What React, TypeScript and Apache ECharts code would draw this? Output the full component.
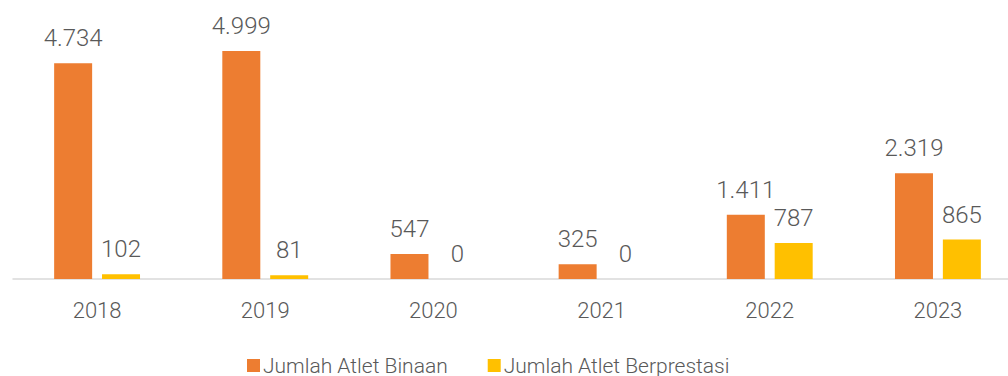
import React, { useEffect, useRef } from "react";
import * as echarts from "echarts";

const categories = ["2018", "2019", "2020", "2021", "2022", "2023"];
const atletBinaan = [4734, 4999, 547, 325, 1411, 2319];
const atletBerprestasi = [102, 81, 0, 0, 787, 865];
const seriesNames = ["Jumlah Atlet Binaan", "Jumlah Atlet Berprestasi"];

const fmt = (v: number) => String(v).replace(/\B(?=(\d{3})+(?!\d))/g, ".");

export default function App() {
  const ref = useRef<HTMLDivElement>(null);
  useEffect(() => {
    if (!ref.current) return;
    const chart = echarts.init(ref.current, null, { renderer: "svg" });
    const labelCfg = {
      show: true,
      position: "top" as const,
      distance: 13,
      color: "#595959",
      fontSize: 24,
      fontWeight: 300,
      fontFamily: "Roboto",
      formatter: (p: any) => fmt(p.value),
    };
    chart.setOption({
      animation: false,
      grid: { left: 13, right: 0, top: 51, bottom: 97, containLabel: false },
      legend: {
        data: seriesNames,
        left: 242,
        top: 350,
        icon: "rect",
        itemWidth: 13,
        itemHeight: 13,
        itemGap: 40,
        textStyle: {
          color: "#595959",
          fontSize: 21,
          fontWeight: 300,
          fontFamily: "Roboto",
          padding: [0, 0, 0, -2],
        },
      },
      xAxis: {
        type: "category",
        data: categories,
        axisLine: { show: true, lineStyle: { color: "#D9D9D9", width: 1.5 } },
        axisTick: { show: false },
        axisLabel: { color: "#595959", fontSize: 22, fontWeight: 300, fontFamily: "Roboto", margin: 20 },
      },
      yAxis: {
        type: "value",
        min: 0,
        max: 5000,
        show: false,
        splitLine: { show: false },
      },
      series: [
        {
          name: seriesNames[0],
          type: "bar",
          data: atletBinaan,
          barWidth: 38,
          barGap: "26%",
          itemStyle: { color: "#ED7D31" },
          label: labelCfg,
        },
        {
          name: seriesNames[1],
          type: "bar",
          data: atletBerprestasi,
          barWidth: 38,
          itemStyle: { color: "#FFC000" },
          label: labelCfg,
        },
      ],
    });
    return () => chart.dispose();
  }, []);
  return (
    <div
      style={{
        position: "absolute",
        left: 0,
        top: 0,
        width: 1008,
        height: 376,
        overflow: "hidden",
        background: "#fff",
      }}
    >
      <div ref={ref} style={{ width: 1022, height: 376 }} />
    </div>
  );
}
